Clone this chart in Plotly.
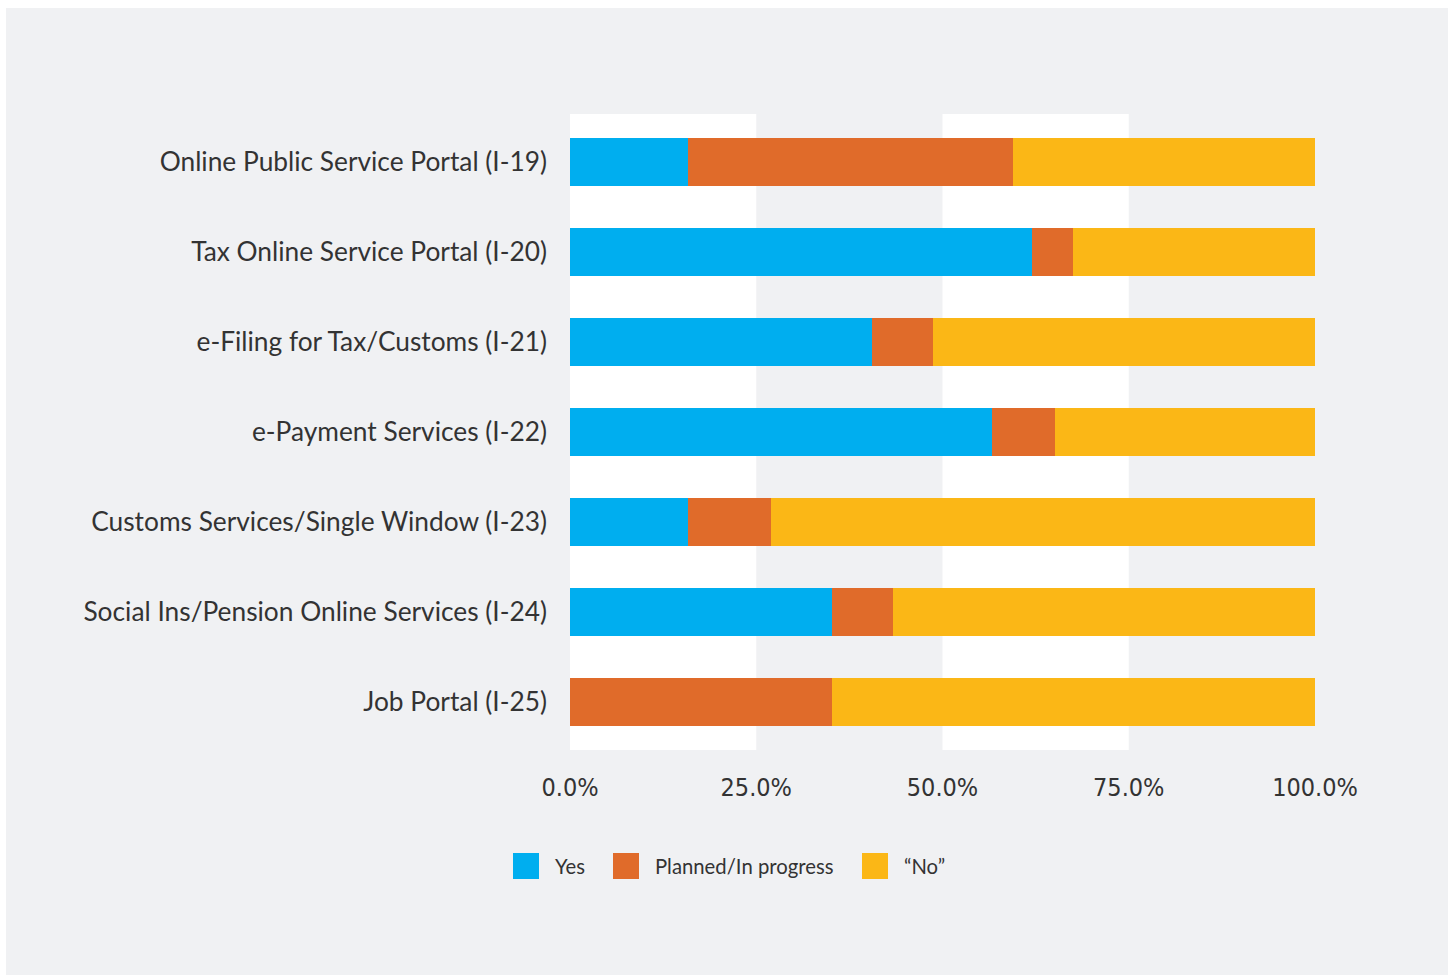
import plotly.graph_objects as go

# Service categories, top to bottom
categories = [
    "Online Public Service Portal (I-19)",
    "Tax Online Service Portal (I-20)",
    "e-Filing for Tax/Customs (I-21)",
    "e-Payment Services (I-22)",
    "Customs Services/Single Window (I-23)",
    "Social Ins/Pension Online Services (I-24)",
    "Job Portal (I-25)",
]

# Share of respondents (%) per answer
yes_vals = [15.8, 62.0, 40.5, 56.7, 15.8, 35.1, 0.0]
planned_vals = [43.6, 5.5, 8.2, 8.4, 11.2, 8.2, 35.1]
no_vals = [40.6, 32.5, 51.3, 34.9, 73.0, 56.7, 64.9]

series_names = ["Yes", "Planned/In progress", "\u201cNo\u201d"]
series_colors = ["#00AEEF", "#E06B2A", "#FBB716"]
x_ticks = [0, 25, 50, 75, 100]
x_tick_text = [f"{v:.1f}%" for v in x_ticks]

W, H = 1448, 975
ML, MR, MT, MB = 570, 133, 114, 225
PW, PH = W - ML - MR, H - MT - MB

BG = "#F0F1F3"
TEXT = "#333333"
LABEL_FONT = "Lato, Noto Sans, sans-serif"
NARROW_FONT = "Liberation Sans Narrow, DejaVu Sans Condensed, Arial Narrow, sans-serif"


def px(x):
    return (x - ML) / PW


def py(y):
    return (H - MB - y) / PH


fig = go.Figure()
for name, vals, color in zip(series_names, [yes_vals, planned_vals, no_vals], series_colors):
    fig.add_trace(go.Bar(
        y=categories, x=vals, name=name, orientation="h",
        marker=dict(color=color, line=dict(width=0)),
        width=0.533, showlegend=False,
    ))

shapes = [
    # grey card behind everything
    dict(type="rect", xref="paper", yref="paper", x0=px(6), x1=px(W + 20),
         y0=py(H + 20), y1=py(8), fillcolor=BG, line=dict(width=0), layer="below"),
]
# alternating white column bands
for a, b in [(0, 25), (50, 75)]:
    shapes.append(dict(type="rect", xref="x", yref="paper", x0=a, x1=b, y0=0, y1=1,
                       fillcolor="white", line=dict(width=0), layer="below"))

# custom legend
legend_items = [(513, 553), (613, 653), (862, 902)]
annotations = []
for (sx, tx), name, color in zip(legend_items, series_names, series_colors):
    shapes.append(dict(type="rect", xref="paper", yref="paper",
                       x0=px(sx), x1=px(sx + 26), y0=py(879), y1=py(853),
                       fillcolor=color, line=dict(width=0)))
    annotations.append(dict(xref="paper", yref="paper", x=px(tx), y=py(866),
                            text=name, showarrow=False, xanchor="left", yanchor="middle",
                            font=dict(family=LABEL_FONT, size=20.3, color=TEXT)))

fig.update_layout(
    width=W, height=H,
    margin=dict(l=ML, r=MR, t=MT, b=MB, pad=0),
    paper_bgcolor="white", plot_bgcolor="rgba(0,0,0,0)",
    barmode="stack", bargap=0,
    shapes=shapes, annotations=annotations,
    showlegend=False,
    xaxis=dict(range=[0, 100], tickmode="array", tickvals=x_ticks, ticktext=x_tick_text,
               showgrid=False, zeroline=False, showline=False, ticks="",
               ticklabelstandoff=20,
               tickfont=dict(family=NARROW_FONT, size=25, color=TEXT)),
    yaxis=dict(type="category", range=[6.533, -0.533], showgrid=False, zeroline=False,
               showline=False, ticks="", ticklabelstandoff=22,
               tickfont=dict(family=LABEL_FONT, size=26.3, color=TEXT)),
)

fig.write_html("out.html")
